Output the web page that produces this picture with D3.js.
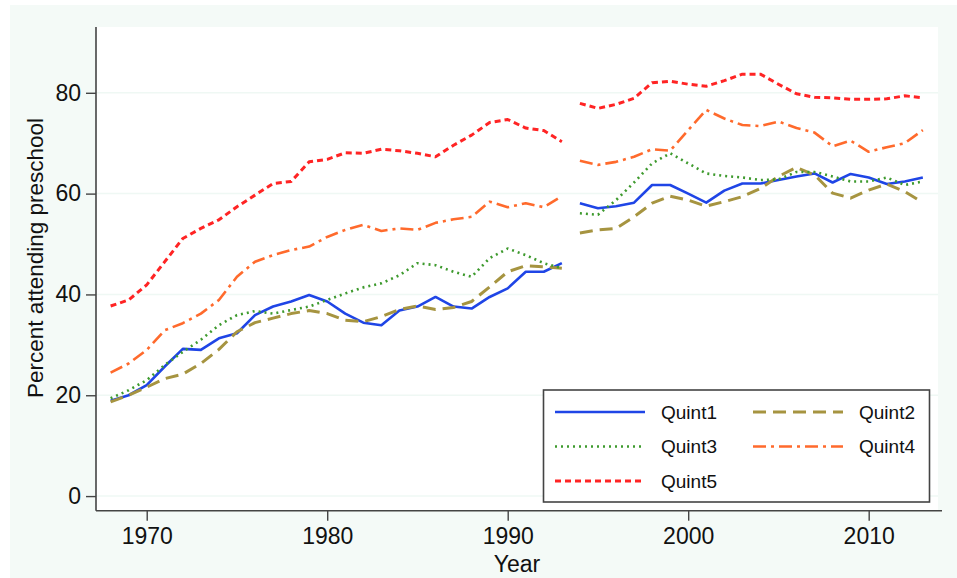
<!DOCTYPE html>
<html>
<head>
<meta charset="utf-8">
<script src="https://cdn.jsdelivr.net/npm/d3@7"></script>
<style>
  body { margin: 0; background: #ffffff; }
  text { font-family: "Liberation Sans", Arial, sans-serif; fill: #111; }
</style>
</head>
<body>
<div class="container"></div>
<script>
// years before and after the 1994 break
var yearsA = [1968, 1969, 1970, 1971, 1972, 1973, 1974, 1975, 1976, 1977, 1978, 1979, 1980,
              1981, 1982, 1983, 1984, 1985, 1986, 1987, 1988, 1989, 1990, 1991, 1992, 1993];
var yearsB = [1994, 1995, 1996, 1997, 1998, 1999, 2000, 2001, 2002, 2003,
              2004, 2005, 2006, 2007, 2008, 2009, 2010, 2011, 2012, 2013];

var quint1A = [18.9, 20.0, 22.0, 25.7, 29.2, 29.0, 31.3, 32.3, 35.9, 37.6, 38.6, 39.9, 38.6,
               36.2, 34.4, 33.9, 36.8, 37.6, 39.5, 37.6, 37.2, 39.5, 41.2, 44.5, 44.5, 46.2];
var quint1B = [58.1, 57.1, 57.5, 58.2, 61.7, 61.7, 60.0, 58.2, 60.6, 62.0,
               62.0, 62.7, 63.4, 64.0, 62.2, 63.9, 63.2, 61.9, 62.4, 63.2];
var quint2A = [18.7, 20.0, 21.6, 23.3, 24.2, 26.3, 29.1, 32.6, 34.4, 35.3, 36.2, 36.8, 36.2,
               34.9, 34.6, 35.6, 37.0, 37.7, 37.0, 37.4, 38.6, 41.5, 44.5, 45.7, 45.5, 45.2];
var quint2B = [52.2, 52.8, 53.1, 55.4, 58.1, 59.5, 58.7, 57.5, 58.4, 59.4,
               61.0, 63.4, 65.2, 63.7, 60.1, 59.1, 60.7, 61.9, 60.4, 58.2];
var quint3A = [19.4, 21.0, 23.0, 26.0, 28.6, 31.0, 33.9, 35.9, 36.7, 36.2, 36.9, 37.6, 38.9,
               40.2, 41.4, 42.2, 43.8, 46.2, 45.8, 44.5, 43.5, 47.2, 49.1, 47.8, 46.2, 45.2];
var quint3B = [56.1, 55.8, 58.7, 62.2, 66.0, 68.0, 66.0, 64.0, 63.5, 63.2,
               62.7, 62.8, 64.3, 64.3, 63.4, 62.4, 62.4, 63.2, 61.7, 62.4];
var quint4A = [24.5, 26.3, 29.0, 32.9, 34.3, 36.2, 38.9, 43.5, 46.5, 47.8, 48.8, 49.5, 51.4,
               52.8, 53.8, 52.6, 53.1, 52.8, 54.2, 54.9, 55.4, 58.4, 57.3, 58.1, 57.3, 59.5];
var quint4B = [66.5, 65.7, 66.3, 67.3, 68.8, 68.5, 72.6, 76.6, 74.9, 73.6,
               73.4, 74.3, 73.0, 72.1, 69.4, 70.5, 68.3, 69.2, 70.0, 72.6];
var quint5A = [37.7, 38.9, 41.9, 46.5, 51.1, 53.1, 54.8, 57.4, 59.7, 62.0, 62.4, 66.3, 66.8,
               68.1, 68.0, 68.8, 68.5, 68.0, 67.3, 69.6, 71.6, 74.1, 74.7, 73.0, 72.5, 70.3];
var quint5B = [77.9, 76.9, 77.7, 78.9, 82.0, 82.3, 81.7, 81.3, 82.4, 83.7,
               83.7, 81.7, 79.8, 79.1, 79.0, 78.7, 78.7, 78.8, 79.4, 79.0];

var seriesNames = ["Quint1", "Quint2", "Quint3", "Quint4", "Quint5"];
var yTicks = [0, 20, 40, 60, 80];
var xTicks = [1970, 1980, 1990, 2000, 2010];

// line look for each quintile
var styles = [
  {color: "#1f45e6", dash: null, width: 2.6},
  {color: "#a69440", dash: "13,7", width: 3},
  {color: "#3e9a2e", dash: "2,4", width: 2.6},
  {color: "#ff6a2c", dash: "13,5,3,5", width: 2.6},
  {color: "#ff2424", dash: "6,4", width: 3}
];

var segments = [
  [quint1A, quint1B], [quint2A, quint2B], [quint3A, quint3B],
  [quint4A, quint4B], [quint5A, quint5B]
];

var W = 957, H = 578;
var plot = {left: 96, right: 938, top: 27, bottom: 510.7};

var svg = d3.select(".container").append("svg")
    .attr("width", W)
    .attr("height", H);

// outer graph region
svg.append("rect")
    .attr("x", 10).attr("y", 5)
    .attr("width", W - 10).attr("height", H - 5)
    .attr("fill", "#f4faf7");

// plot region
svg.append("rect")
    .attr("x", plot.left).attr("y", plot.top)
    .attr("width", plot.right - plot.left).attr("height", plot.bottom - plot.top)
    .attr("fill", "#ffffff");

var x = d3.scaleLinear()
    .domain([1967.19, 2013.84])
    .range([plot.left, plot.right]);

var y = d3.scaleLinear()
    .domain([-2.9, 93.05])
    .range([plot.bottom, plot.top]);

// faint gridlines
svg.selectAll(".grid")
    .data(yTicks)
  .enter().append("line")
    .attr("class", "grid")
    .attr("x1", plot.left).attr("x2", plot.right)
    .attr("y1", function(d) { return y(d); })
    .attr("y2", function(d) { return y(d); })
    .attr("stroke", "#eff8f4")
    .attr("stroke-width", 1.5);

// y axis
var yAxis = svg.append("g")
    .attr("transform", "translate(" + plot.left + ",0)")
    .call(d3.axisLeft(y).tickValues(yTicks).tickSize(10).tickPadding(5));

// x axis
var xAxis = svg.append("g")
    .attr("transform", "translate(0," + plot.bottom + ")")
    .call(d3.axisBottom(x).tickValues(xTicks).tickFormat(d3.format("d")).tickSize(10).tickPadding(7));

[yAxis, xAxis].forEach(function(ax) {
  ax.select(".domain").attr("stroke", "#444").attr("stroke-width", 1.6);
  ax.selectAll(".tick line").attr("stroke", "#444").attr("stroke-width", 1.4);
  ax.selectAll(".tick text")
    .style("font-family", "Liberation Sans, Arial, sans-serif")
    .style("font-size", "23px")
    .attr("fill", "#111");
});
yAxis.select(".domain").attr("d", "M0," + plot.bottom + "V" + plot.top);
xAxis.select(".domain").attr("d", "M" + plot.left + ",0H" + (plot.right + 4));

// axis titles
svg.append("text")
    .attr("transform", "translate(43,258) rotate(-90)")
    .attr("text-anchor", "middle")
    .style("font-size", "22.5px")
    .text("Percent attending preschool");

svg.append("text")
    .attr("x", (plot.left + plot.right) / 2)
    .attr("y", 572)
    .attr("text-anchor", "middle")
    .style("font-size", "23px")
    .text("Year");

// the lines, broken between 1993 and 1994
var line = d3.line()
    .x(function(d) { return x(d[0]); })
    .y(function(d) { return y(d[1]); });

segments.forEach(function(pair, i) {
  [[yearsA, pair[0]], [yearsB, pair[1]]].forEach(function(part) {
    var pts = part[0].map(function(yr, k) { return [yr, part[1][k]]; });
    svg.append("path")
      .datum(pts)
      .attr("d", line)
      .attr("fill", "none")
      .attr("stroke", styles[i].color)
      .attr("stroke-width", styles[i].width)
      .attr("stroke-dasharray", styles[i].dash)
      .attr("stroke-linejoin", "round");
  });
});

// legend
var legend = svg.append("g");
legend.append("rect")
    .attr("x", 543.5).attr("y", 390)
    .attr("width", 386).attr("height", 112)
    .attr("fill", "#ffffff")
    .attr("stroke", "#444")
    .attr("stroke-width", 1.6);

var legX = [555, 753], legY = [412, 446.5, 481];
seriesNames.forEach(function(name, i) {
  var cx = legX[i % 2], cy = legY[Math.floor(i / 2)];
  legend.append("line")
    .attr("x1", cx).attr("x2", cx + 90)
    .attr("y1", cy).attr("y2", cy)
    .attr("stroke", styles[i].color)
    .attr("stroke-width", styles[i].width)
    .attr("stroke-dasharray", styles[i].dash);
  legend.append("text")
    .attr("x", cx + 106)
    .attr("y", cy)
    .attr("dy", "0.35em")
    .style("font-size", "19px")
    .text(name);
});
</script>
</body>
</html>
